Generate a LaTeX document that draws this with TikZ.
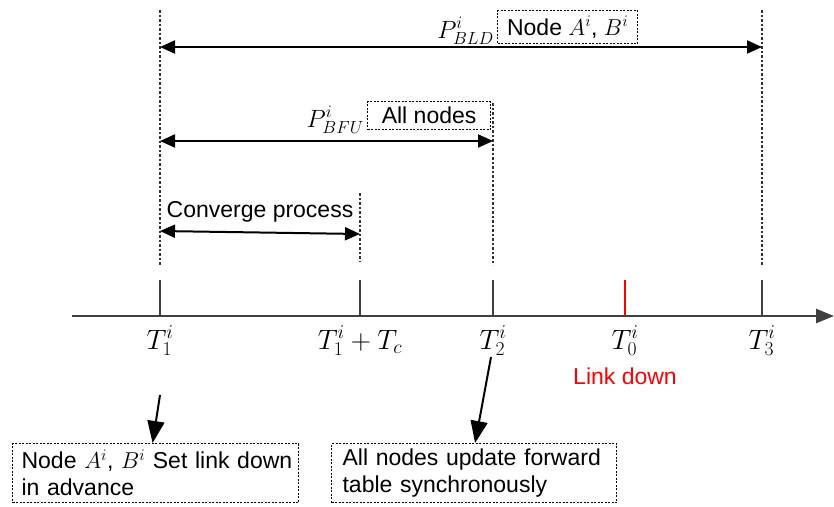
\RequirePackage{fix-cm}
\documentclass[tikz,border=0pt]{standalone}
\usepackage{fontspec}
\setmainfont{Liberation Sans}
\usetikzlibrary{arrows.meta,calc}
\begin{document}
\begin{tikzpicture}[x=1pt,y=-1pt,
  txt/.style={font=\fontsize{23}{27}\selectfont, inner sep=0pt},
  mth/.style={font=\fontsize{28}{32}\selectfont, inner sep=0pt},
  guide/.style={line width=1.3pt, dash pattern=on 2.5pt off 2pt, black!80},
  dbox/.style={draw, line width=1.2pt, dash pattern=on 2pt off 1.5pt},
  span/.style={line width=2pt, {Triangle[length=15pt,width=13pt]}-{Triangle[length=15pt,width=13pt]}},
  callout/.style={line width=2pt, -{Triangle[length=22pt,width=17pt]}},
  tickmark/.style={line width=2pt, black!75},
]
\useasboundingbox (0,0) rectangle (834,506);

% axis
\coordinate (axL) at (72,316);
\coordinate (axR) at (834,316);
\draw[line width=2.5pt, black!75, -{Triangle[length=18pt,width=14pt]}] (axL) -- (axR);

% tick coordinates
\foreach \n/\x in {t1/160, tc/360, t2/493, t0/625, t3/762} {
  \coordinate (\n) at (\x,316);
  \coordinate (\n-top) at (\x,280);
}
\draw[tickmark] (t1) -- (t1-top);
\draw[tickmark] (tc) -- (tc-top);
\draw[tickmark] (t2) -- (t2-top);
\draw[tickmark] (t3) -- (t3-top);
\draw[line width=2pt, red] (t0) -- (t0-top);

% dashed guides
\coordinate (g1a) at (160,10);  \coordinate (g1b) at (160,265);
\coordinate (gca) at (360,193); \coordinate (gcb) at (360,262);
\coordinate (g2a) at (493,103); \coordinate (g2b) at (493,265);
\coordinate (g3a) at (762,10);  \coordinate (g3b) at (762,265);
\draw[guide] (g1a) -- (g1b);
\draw[guide] (gca) -- (gcb);
\draw[guide] (g2a) -- (g2b);
\draw[guide] (g3a) -- (g3b);

% spans
\coordinate (bldL) at (160,47);  \coordinate (bldR) at (762,47);
\coordinate (bfuL) at (160,141); \coordinate (bfuR) at (493,141);
\coordinate (cvL) at (160,231);  \coordinate (cvR) at (360,234);
\draw[span] (bldL) -- (bldR);
\draw[span] (bfuL) -- (bfuR);
\draw[span] (cvL) -- (cvR);

% span labels
\node[dbox, txt, minimum width=140pt, minimum height=33pt, anchor=north west] (bldbox) at (497,10) {Node $A^i$, $B^i$};
\node[txt, anchor=base east, font=\fontsize{25}{29}\selectfont] (bldlab) at (494,38) {$P^i_{BLD}$};
\node[dbox, txt, minimum width=123pt, minimum height=28pt, anchor=north west] (bfubox) at (367,101) {All nodes};
\node[txt, anchor=base east, font=\fontsize{25}{29}\selectfont] (bfulab) at (364,127) {$P^i_{BFU}$};
\node[txt, anchor=base] (cvlab) at (260,217) {Converge process};

% axis labels
\node[mth, anchor=base] (lt1) at (160,349) {$T_1^i$};
\node[mth, anchor=base] (ltc) at (360,349) {$T_1^i+T_c$};
\node[mth, anchor=base] (lt2) at (493,349) {$T_2^i$};
\node[mth, anchor=base] (lt0) at (625,349) {$T_0^i$};
\node[mth, anchor=base] (lt3) at (762,349) {$T_3^i$};
\node[txt, anchor=base, red] (ld) at (625,384) {Link down};

% callout boxes
\node[dbox, txt, anchor=north west, align=left, text width=268pt, inner xsep=9pt, inner ysep=3pt, minimum height=59pt] (box1) at (12,443)
  {\mbox{Node $A^i$, $B^i$ Set link down}\\in advance};
\node[dbox, txt, anchor=north west, align=left, text width=263pt, inner xsep=11pt, inner ysep=3pt, minimum height=59pt] (box2) at (331,443)
  {All nodes update forward\\table synchronously};

\coordinate (c1) at (160,395);
\coordinate (c2) at (491,357);
\draw[callout] (c1) -- ([xshift=-3pt]box1.north);
\draw[callout] (c2) -- ([xshift=1pt]box2.north);
\end{tikzpicture}
\end{document}
